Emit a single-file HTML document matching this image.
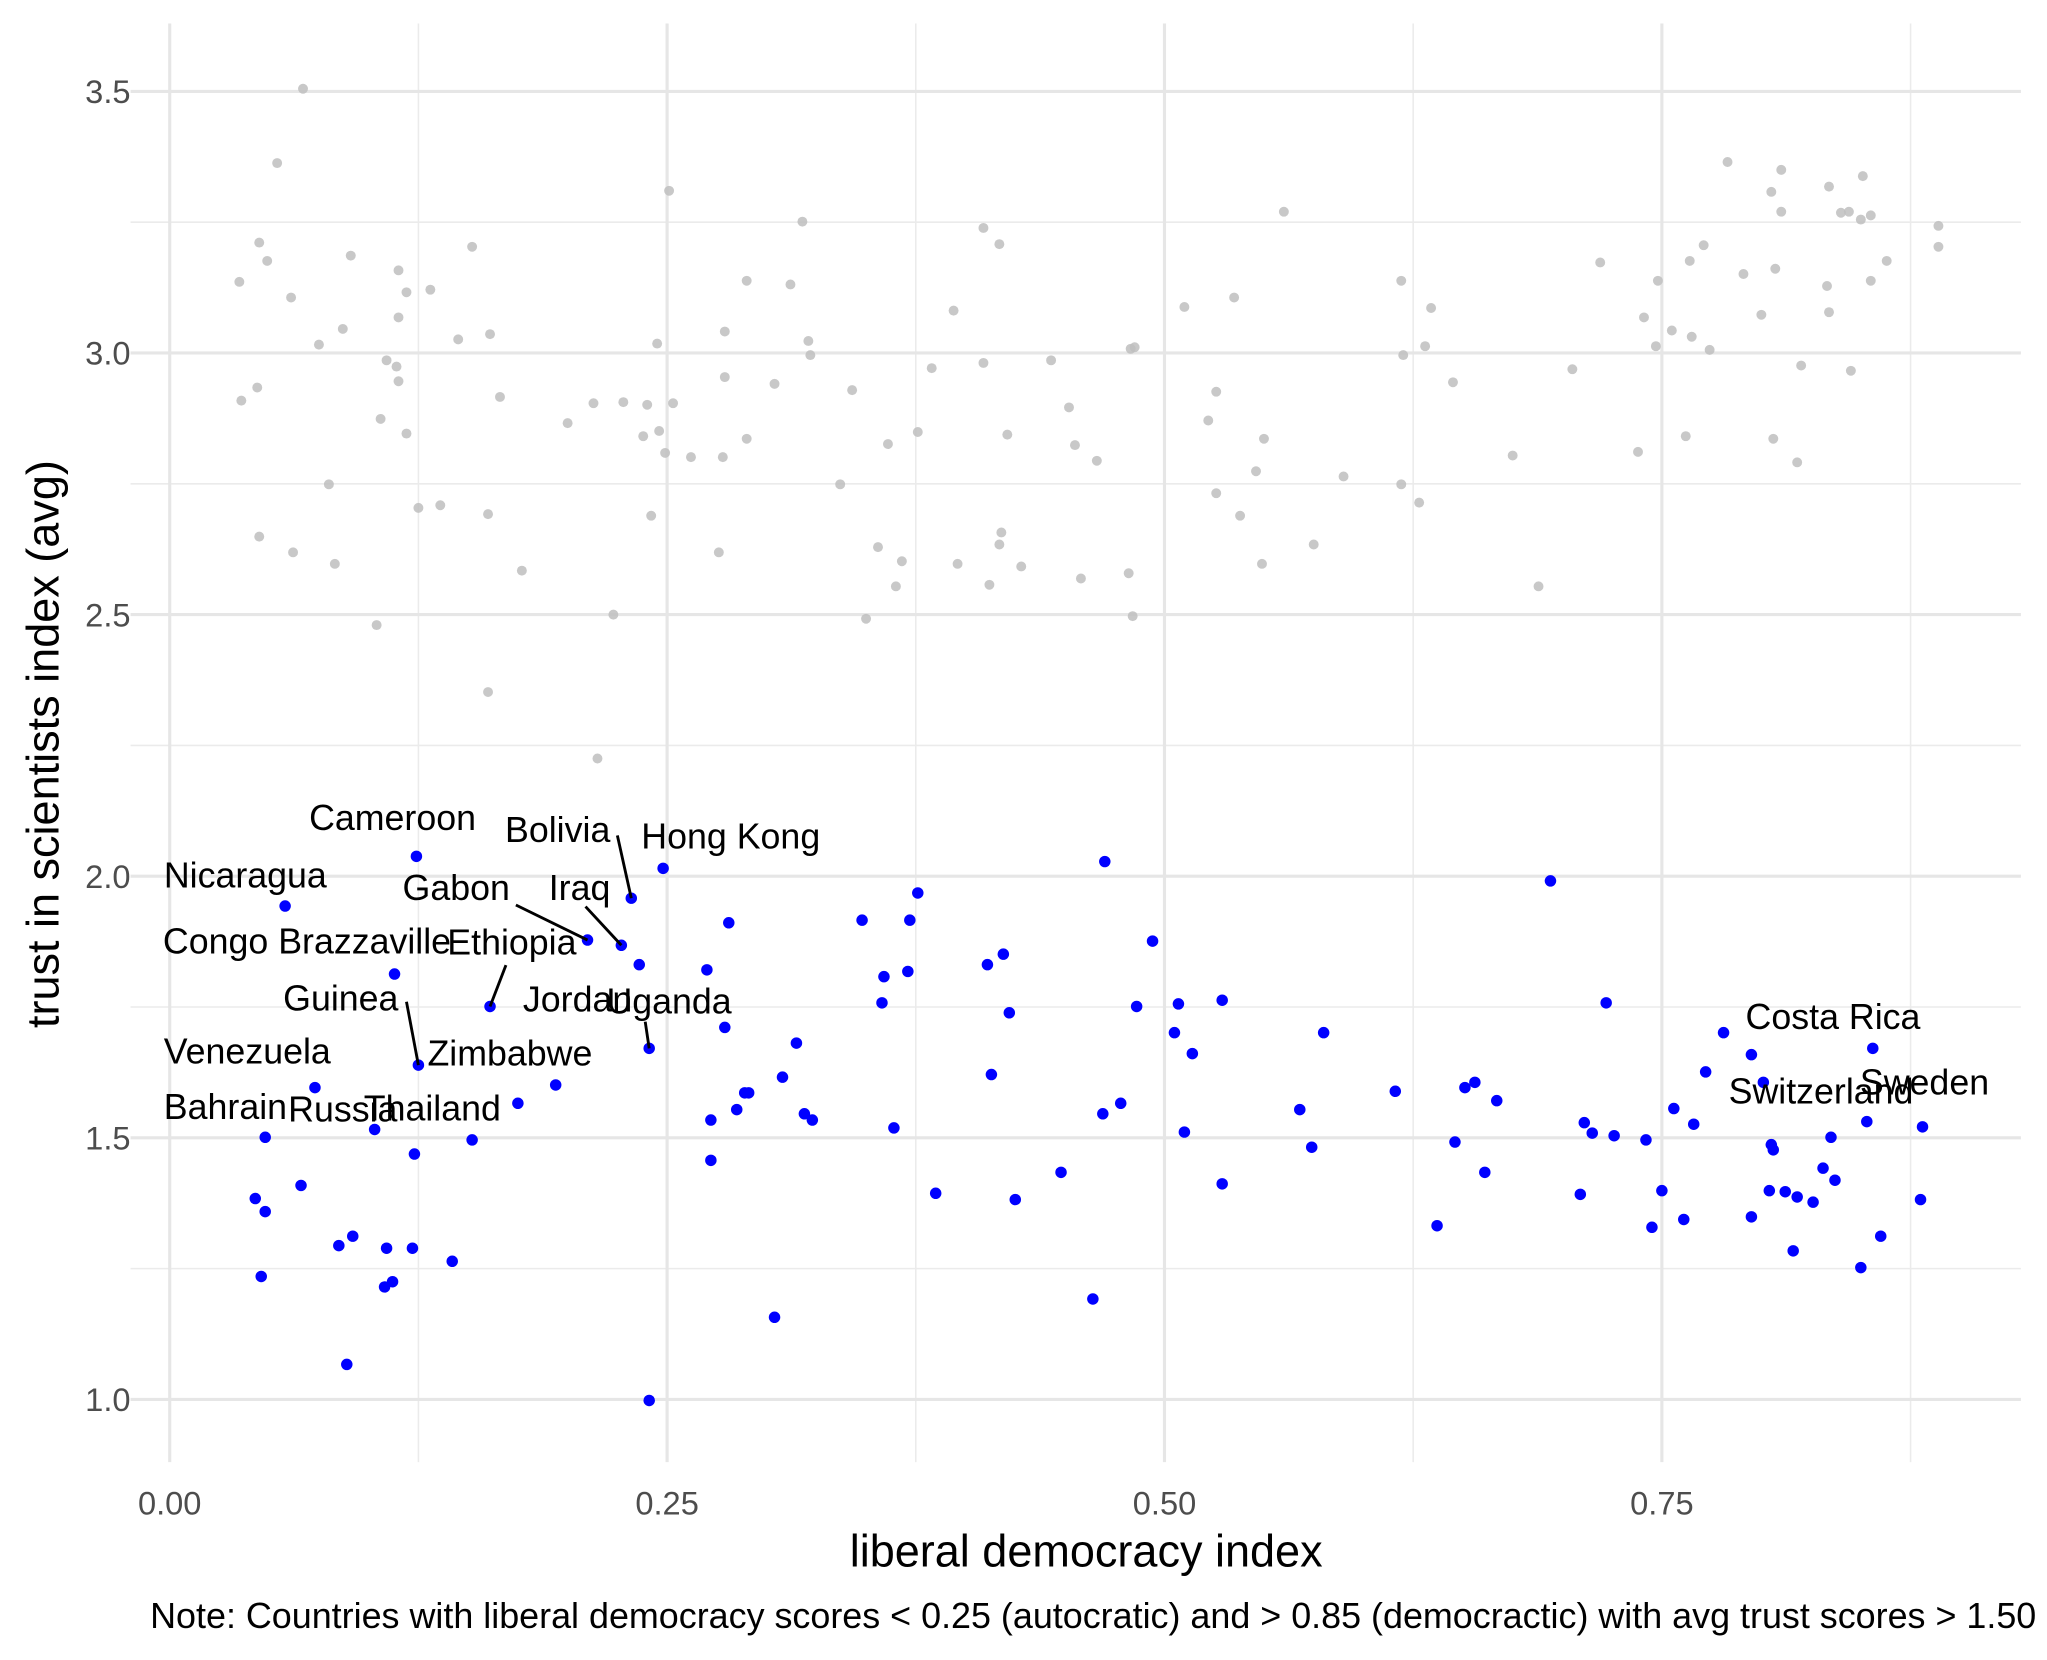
<!DOCTYPE html>
<html><head><meta charset="utf-8"><style>
html,body{margin:0;padding:0;background:#fff}
svg{display:block;font-family:"Liberation Sans",Arial,sans-serif}
</style></head><body>
<svg id="chart" width="2047" height="1660" viewBox="0 0 1568 1271.6" preserveAspectRatio="none" xmlns="http://www.w3.org/2000/svg">
<rect width="1568" height="1271.6" fill="#fff"/>
<g id="grid"></g>
<g id="axes"></g>
<g id="grey"></g>
<g id="blue"></g>
<g id="labels"></g>
<text x="832" y="1200" font-size="34.5" text-anchor="middle" fill="#000">liberal democracy index</text>
<text transform="translate(45,570) rotate(-90)" font-size="34.5" text-anchor="middle" fill="#000">trust in scientists index (avg)</text>
<text x="115" y="1247" font-size="27.5" fill="#000">Note: Countries with liberal democracy scores &lt; 0.25 (autocratic) and &gt; 0.85 (democractic) with avg trust scores &gt; 1.50</text>
</svg>
<script>
const xTicks=[0,0.25,0.5,0.75];
const xTickLabels=["0.00","0.25","0.50","0.75"];
const xMinor=[0.125,0.375,0.625,0.875];
const yTicks=[1.0,1.5,2.0,2.5,3.0,3.5];
const yTickLabels=["1.0","1.5","2.0","2.5","3.0","3.5"];
const yMinor=[1.25,1.75,2.25,2.75,3.25];
const greyX=[0.035,0.036,0.045,0.049,0.054,0.067,0.044,0.045,0.062,0.061,0.075,0.080,0.083,0.087,0.091,0.104,0.106,0.109,0.114,0.115,0.115,0.115,0.119,0.119,0.125,0.131,0.136,0.145,0.152,0.160,0.160,0.161,0.166,0.177,0.200,0.213,0.215,0.223,0.228,0.238,0.240,0.242,0.245,0.246,0.249,0.251,0.253,0.262,0.276,0.278,0.279,0.279,0.290,0.290,0.304,0.312,0.318,0.321,0.322,0.337,0.343,0.350,0.356,0.361,0.365,0.368,0.376,0.383,0.394,0.396,0.409,0.409,0.412,0.417,0.418,0.417,0.421,0.428,0.443,0.452,0.455,0.458,0.466,0.482,0.483,0.485,0.484,0.510,0.522,0.526,0.526,0.535,0.538,0.546,0.549,0.550,0.560,0.575,0.590,0.619,0.619,0.620,0.628,0.631,0.634,0.645,0.675,0.688,0.705,0.719,0.738,0.741,0.747,0.748,0.755,0.762,0.764,0.765,0.771,0.774,0.783,0.791,0.800,0.805,0.807,0.806,0.810,0.810,0.820,0.818,0.834,0.833,0.834,0.840,0.844,0.845,0.850,0.851,0.855,0.855,0.863,0.889,0.889];
const greyY=[3.136,2.909,3.211,3.176,3.363,3.505,2.934,2.649,2.619,3.106,3.016,2.749,2.597,3.046,3.186,2.480,2.874,2.986,2.974,2.946,3.158,3.068,3.116,2.846,2.704,3.121,2.709,3.026,3.203,2.352,2.692,3.036,2.916,2.584,2.866,2.904,2.225,2.500,2.906,2.841,2.901,2.689,3.018,2.851,2.809,3.310,2.904,2.801,2.619,2.801,2.954,3.041,2.836,3.138,2.941,3.131,3.251,3.023,2.996,2.749,2.929,2.492,2.629,2.826,2.554,2.602,2.849,2.971,3.081,2.597,3.239,2.981,2.557,2.634,2.657,3.208,2.844,2.592,2.986,2.896,2.824,2.569,2.794,2.579,3.008,3.011,2.497,3.088,2.871,2.926,2.732,3.106,2.689,2.774,2.597,2.836,3.270,2.634,2.764,3.138,2.749,2.996,2.714,3.013,3.086,2.944,2.804,2.554,2.969,3.173,2.811,3.068,3.013,3.138,3.043,2.841,3.176,3.031,3.206,3.006,3.365,3.151,3.073,3.308,3.161,2.836,3.270,3.350,2.976,2.791,3.318,3.128,3.078,3.268,3.270,2.966,3.255,3.338,3.263,3.138,3.176,3.243,3.203];
const blueX=[0.058,0.124,0.248,0.232,0.210,0.227,0.236,0.113,0.161,0.241,0.125,0.073,0.194,0.175,0.103,0.048,0.152,0.123,0.066,0.043,0.048,0.092,0.085,0.109,0.122,0.142,0.046,0.112,0.108,0.089,0.241,0.270,0.281,0.279,0.315,0.308,0.289,0.291,0.285,0.272,0.272,0.319,0.323,0.304,0.348,0.376,0.372,0.359,0.371,0.358,0.364,0.385,0.411,0.419,0.422,0.413,0.425,0.448,0.470,0.494,0.486,0.478,0.469,0.464,0.507,0.505,0.514,0.529,0.510,0.529,0.580,0.568,0.574,0.616,0.651,0.656,0.667,0.646,0.661,0.637,0.694,0.722,0.711,0.715,0.726,0.709,0.742,0.750,0.745,0.756,0.766,0.761,0.772,0.781,0.795,0.801,0.805,0.806,0.804,0.795,0.812,0.818,0.826,0.816,0.831,0.835,0.837,0.853,0.856,0.860,0.850,0.881,0.880];
const blueY=[1.943,2.038,2.015,1.958,1.878,1.868,1.831,1.813,1.751,1.671,1.639,1.596,1.601,1.566,1.516,1.501,1.496,1.469,1.409,1.384,1.359,1.312,1.294,1.289,1.289,1.264,1.235,1.225,1.215,1.067,0.998,1.821,1.911,1.711,1.681,1.616,1.586,1.586,1.554,1.534,1.457,1.546,1.534,1.157,1.916,1.968,1.916,1.808,1.818,1.758,1.519,1.394,1.831,1.851,1.739,1.621,1.382,1.434,2.028,1.876,1.751,1.566,1.546,1.192,1.756,1.701,1.661,1.763,1.511,1.412,1.701,1.554,1.482,1.589,1.596,1.606,1.571,1.492,1.434,1.332,1.991,1.758,1.529,1.509,1.504,1.392,1.496,1.399,1.329,1.556,1.526,1.344,1.626,1.701,1.659,1.606,1.487,1.477,1.399,1.349,1.397,1.387,1.377,1.284,1.442,1.501,1.419,1.531,1.671,1.312,1.252,1.521,1.382];
const labelNames=["Cameroon","Bolivia","Hong Kong","Nicaragua","Gabon","Iraq","Congo Brazzaville","Ethiopia","Guinea","Jordan","Uganda","Zimbabwe","Venezuela","Bahrain","Russia","Thailand","Costa Rica","Switzerland","Sweden"];
const labelX=[0.112,0.195,0.282,0.038,0.144,0.206,0.069,0.172,0.086,0.205,0.251,0.171,0.039,0.028,0.087,0.132,0.836,0.830,0.882];
const labelY=[2.088,2.065,2.053,1.978,1.955,1.955,1.852,1.850,1.743,1.741,1.738,1.638,1.642,1.536,1.531,1.533,1.708,1.566,1.583];
const segX1=[0.225,0.174,0.209,0.169,0.119,0.239];
const segY1=[2.078,1.945,1.942,1.830,1.760,1.722];
const segX2=[0.232,0.210,0.227,0.161,0.125,0.241];
const segY2=[1.958,1.878,1.868,1.751,1.639,1.671];

const NS="http://www.w3.org/2000/svg";
const L=100,R=1548,T=18,B=1120;
function sx(v){return 130+v*1524;}
function sy(v){return 1072-(v-1)*400.8;}
function mk(tag,attrs,parent,txt){const e=document.createElementNS(NS,tag);for(const k in attrs)e.setAttribute(k,attrs[k]);if(txt!==undefined)e.textContent=txt;parent.appendChild(e);return e;}
const grid=document.getElementById('grid'),axes=document.getElementById('axes');
xMinor.forEach(v=>{const e=mk('line',{x1:sx(v),x2:sx(v),y1:T,y2:B,stroke:'#ebebeb','stroke-width':1.2},grid);

});
yMinor.forEach(v=>{const e=mk('line',{x1:L,x2:R,y1:sy(v),y2:sy(v),stroke:'#ebebeb','stroke-width':1.2},grid);

});
xTicks.forEach((v,i)=>{const e=mk('line',{x1:sx(v),x2:sx(v),y1:T,y2:B,stroke:'#e6e6e6','stroke-width':2.4},grid);


const t=mk('text',{x:sx(v),y:1160,'font-size':25,'text-anchor':'middle',fill:'#4d4d4d'},axes,xTickLabels[i]);

});
yTicks.forEach((v,i)=>{const e=mk('line',{x1:L,x2:R,y1:sy(v),y2:sy(v),stroke:'#e6e6e6','stroke-width':2.4},grid);


const t=mk('text',{x:100,y:sy(v)+9,'font-size':25,'text-anchor':'end',fill:'#4d4d4d'},axes,yTickLabels[i]);

});
const gg=document.getElementById('grey');
greyX.forEach((v,i)=>{const c=mk('circle',{cx:sx(v),cy:sy(greyY[i]),r:3.8,fill:'#bebebe','fill-opacity':0.85},gg);

});
const bg=document.getElementById('blue');
blueX.forEach((v,i)=>{const c=mk('circle',{cx:sx(v),cy:sy(blueY[i]),r:4.4,fill:'#0000ff'},bg);

});
const lg=document.getElementById('labels');
segX1.forEach((v,i)=>{const s=mk('line',{x1:sx(v),y1:sy(segY1[i]),x2:sx(segX2[i]),y2:sy(segY2[i]),stroke:'#000','stroke-width':2.2},lg);

});
labelNames.forEach((n,i)=>{const t=mk('text',{x:sx(labelX[i]),y:sy(labelY[i]),'font-size':27.4,'text-anchor':'middle',fill:'#000'},lg,n);

});
</script>
</body></html>
